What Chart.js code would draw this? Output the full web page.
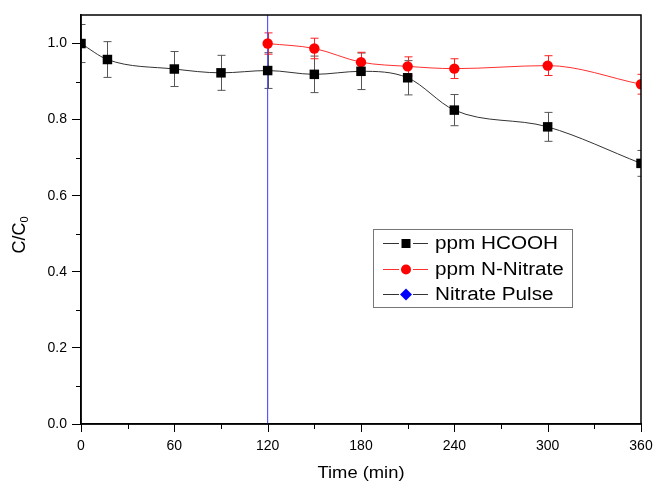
<!DOCTYPE html>
<html>
<head>
<meta charset="utf-8">
<script src="https://cdn.jsdelivr.net/npm/chart.js@4"></script>
<style>
  html, body { margin: 0; padding: 0; background: #fff; }
  #wrap { width: 656px; height: 486px; }
</style>
</head>
<body>
<div id="wrap"><canvas id="chart" width="656" height="486"></canvas></div>
<script>
// values
const hcoohTime   = [0, 17, 60, 90, 120, 150, 180, 210, 240, 300, 360];
const hcoohVal    = [1.0, 0.958, 0.933, 0.923, 0.929, 0.919, 0.927, 0.910, 0.825, 0.781, 0.685];
const hcoohErr    = [0.05, 0.047, 0.046, 0.046, 0.047, 0.048, 0.048, 0.045, 0.041, 0.038, 0.034];
const nitrateTime = [120, 150, 180, 210, 240, 300, 360];
const nitrateVal  = [1.0, 0.987, 0.951, 0.940, 0.934, 0.942, 0.893];
const nitrateErr  = [0.028, 0.027, 0.026, 0.025, 0.026, 0.026, 0.026];
const pulseTime   = 120;
const xTicks      = [0, 60, 120, 180, 240, 300, 360];
const yTicks      = [0, 0.2, 0.4, 0.6, 0.8, 1.0];
const yMax        = 1.075;

const FONT = 'Arial, "Liberation Sans", sans-serif';

const toXY = (ts, vs) => ts.map((t, i) => ({ x: t, y: vs[i] }));

// error bars, ticks, frame, axis titles, legend
const decorations = {
    id: 'decorations',
    beforeDatasetsDraw(chart) {
        const { ctx, chartArea: a, scales: { x, y } } = chart;
        const bars = [
            { ts: hcoohTime,   vs: hcoohVal,   es: hcoohErr,   color: '#555' },
            { ts: nitrateTime, vs: nitrateVal, es: nitrateErr, color: '#ff2020' },
        ];
        ctx.save();
        ctx.beginPath();
        ctx.rect(a.left, a.top, a.right - a.left, a.bottom - a.top);
        ctx.clip();
        ctx.lineWidth = 1;
        for (const b of bars) {
            ctx.strokeStyle = b.color;
            b.ts.forEach((t, i) => {
                const px = Math.round(x.getPixelForValue(t)) + 0.5;
                const top = y.getPixelForValue(b.vs[i] + b.es[i]);
                const bot = y.getPixelForValue(b.vs[i] - b.es[i]);
                ctx.beginPath();
                ctx.moveTo(px, top); ctx.lineTo(px, bot);
                ctx.moveTo(px - 4, top); ctx.lineTo(px + 4, top);
                ctx.moveTo(px - 4, bot); ctx.lineTo(px + 4, bot);
                ctx.stroke();
            });
        }
        ctx.restore();
    },
    afterDraw(chart) {
        const { ctx, chartArea: a, scales: { x, y } } = chart;
        ctx.save();
        ctx.strokeStyle = '#000';
        ctx.lineWidth = 1.5;
        ctx.strokeRect(a.left, a.top, a.right - a.left, a.bottom - a.top);

        // major and minor x ticks
        ctx.lineWidth = 1;
        ctx.beginPath();
        for (let i = 0; i < xTicks.length; i++) {
            const px = Math.round(x.getPixelForValue(xTicks[i])) + 0.5;
            ctx.moveTo(px, a.bottom); ctx.lineTo(px, a.bottom + 8);
            if (i < xTicks.length - 1) {
                const pm = Math.round(x.getPixelForValue((xTicks[i] + xTicks[i + 1]) / 2)) + 0.5;
                ctx.moveTo(pm, a.bottom); ctx.lineTo(pm, a.bottom + 5);
            }
        }
        for (let v = 0.1; v < yMax; v += 0.2) {
            const py = Math.round(y.getPixelForValue(v)) + 0.5;
            ctx.moveTo(a.left, py); ctx.lineTo(a.left - 5, py);
        }
        ctx.stroke();

        // axis titles
        ctx.fillStyle = '#000';
        ctx.font = `17px ${FONT}`;
        ctx.textAlign = 'center';
        ctx.textBaseline = 'middle';
        ctx.save();
        ctx.translate((a.left + a.right) / 2, 473);
        ctx.scale(1.08, 1);
        ctx.fillText('Time (min)', 0, 0);
        ctx.restore();

        ctx.save();
        ctx.translate(20, 235);
        ctx.rotate(-Math.PI / 2);
        ctx.textAlign = 'left';
        ctx.font = `18px ${FONT}`;
        const main = 'C/C';
        const w = ctx.measureText(main).width;
        ctx.font = `11px ${FONT}`;
        const ws = ctx.measureText('0').width;
        const start = -(w + ws) / 2;
        ctx.font = `18px ${FONT}`;
        ctx.fillText(main, start, 0);
        ctx.font = `11px ${FONT}`;
        ctx.fillText('0', start + w, 5);
        ctx.restore();

        // legend
        const lx = 373, ly = 229, lw = 199, lh = 78;
        ctx.fillStyle = '#fff';
        ctx.fillRect(lx, ly, lw, lh);
        ctx.strokeStyle = '#777';
        ctx.lineWidth = 1;
        ctx.strokeRect(lx + 0.5, ly + 0.5, lw, lh);
        const items = chart.data.datasets.map(d => d.legend);
        items.forEach((it, i) => {
            const cy = Math.round(ly + 14 + i * 25.5);
            const mx = lx + 33;
            ctx.strokeStyle = it.line;
            ctx.beginPath();
            ctx.moveTo(lx + 10, cy + 0.5); ctx.lineTo(mx - 7, cy + 0.5);
            ctx.moveTo(mx + 7, cy + 0.5); ctx.lineTo(lx + 55, cy + 0.5);
            ctx.stroke();
            ctx.fillStyle = it.marker;
            ctx.beginPath();
            if (it.shape === 'rect') ctx.rect(mx - 4.5, cy - 4, 9, 9);
            else if (it.shape === 'circle') ctx.arc(mx, cy + 0.5, 5, 0, Math.PI * 2);
            else {
                ctx.moveTo(mx, cy - 5.5); ctx.lineTo(mx + 6, cy + 0.5);
                ctx.lineTo(mx, cy + 6.5); ctx.lineTo(mx - 6, cy + 0.5);
                ctx.closePath();
            }
            ctx.fill();
            ctx.save();
            ctx.translate(lx + 62, cy + 1);
            ctx.scale(1.15, 1);
            ctx.fillStyle = '#000';
            ctx.font = `18px ${FONT}`;
            ctx.textAlign = 'left';
            ctx.textBaseline = 'middle';
            ctx.fillText(it.label, 0, 0);
            ctx.restore();
        });
        ctx.restore();
    },
};

new Chart(document.getElementById('chart'), {
    type: 'line',
    data: {
        datasets: [
            {
                label: 'ppm HCOOH',
                data: toXY(hcoohTime, hcoohVal),
                borderColor: '#333',
                borderWidth: 1,
                backgroundColor: '#000',
                pointStyle: 'rect',
                pointRadius: 6.7,
                pointBorderWidth: 0,
                cubicInterpolationMode: 'monotone',
                clip: 0,
                legend: { label: 'ppm HCOOH', line: '#333', marker: '#000', shape: 'rect' },
            },
            {
                label: 'ppm N-Nitrate',
                data: toXY(nitrateTime, nitrateVal),
                borderColor: '#ff3030',
                borderWidth: 1,
                backgroundColor: '#ff0000',
                pointStyle: 'circle',
                pointRadius: 5.2,
                pointBorderWidth: 0,
                cubicInterpolationMode: 'monotone',
                clip: 0,
                legend: { label: 'ppm N-Nitrate', line: '#ff3030', marker: '#ff0000', shape: 'circle' },
            },
            {
                label: 'Nitrate Pulse',
                data: [{ x: pulseTime, y: 0 }, { x: pulseTime, y: yMax }],
                borderColor: '#3a3aff',
                borderWidth: 1,
                pointRadius: 0,
                tension: 0,
                clip: 0,
                legend: { label: 'Nitrate Pulse', line: '#333', marker: '#0000ff', shape: 'diamond' },
            },
        ],
    },
    options: {
        responsive: false,
        animation: false,
        events: [],
        layout: { padding: { top: 15, right: 15, left: 0, bottom: 0 } },
        plugins: { legend: { display: false }, tooltip: { enabled: false } },
        scales: {
            x: {
                type: 'linear',
                min: 0, max: 360,
                afterBuildTicks: s => { s.ticks = xTicks.map(v => ({ value: v })); },
                afterFit: s => { s.height = 62; },
                grid: { drawOnChartArea: false, tickLength: 12, color: '#000', tickColor: 'rgba(0,0,0,0)' },
                border: { color: '#000', width: 1.5 },
                ticks: { color: '#000', font: { family: FONT, size: 14 }, padding: 2, maxRotation: 0 },
            },
            y: {
                type: 'linear',
                min: 0, max: yMax,
                afterBuildTicks: s => { s.ticks = yTicks.map(v => ({ value: v })); },
                afterFit: s => { s.width = 81; },
                grid: { drawOnChartArea: false, tickLength: 9, color: '#000', tickColor: '#000' },
                border: { color: '#000', width: 1.5 },
                ticks: {
                    color: '#000', font: { family: FONT, size: 14 }, padding: 5,
                    callback: v => v.toFixed(1),
                },
            },
        },
    },
    plugins: [decorations],
});
</script>
</body>
</html>
